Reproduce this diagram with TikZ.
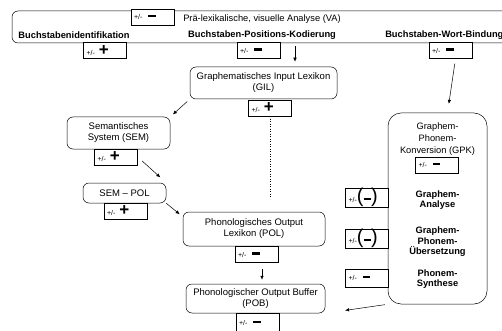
\documentclass[tikz,border=0pt]{standalone}
\usepackage{fontspec}
\setmainfont{Liberation Sans}
\usetikzlibrary{arrows.meta}

\newcommand{\pmlabel}{{\fontsize{7}{7}\selectfont +/-}}
\newcommand{\bigplus}{{\fontsize{17}{17}\selectfont\textbf{+}}}
\newcommand{\bigminus}{\rule[2.5pt]{7.5pt}{2.2pt}}
\newcommand{\parminus}{{\fontsize{20}{20}\selectfont(}\bigminus{\fontsize{20}{20}\selectfont)}}

\tikzset{
  stage/.style={draw, rounded corners=6pt, align=center, inner sep=0pt,
    font=\fontsize{9.5}{11}\selectfont},
  score/.style={draw, fill=white, text width=37pt, inner xsep=3pt, inner ysep=0pt,
    minimum height=16pt, align=left},
  route/.style={font=\fontsize{9.3}{10.5}\selectfont\bfseries, align=center, inner sep=0pt},
  every path/.style={line width=0.5pt},
  >={Latex[length=4pt,width=3.5pt]}
}

\begin{document}
\begin{tikzpicture}[x=1pt,y=-1pt]
      \useasboundingbox (0,0) rectangle (502,331);
      %Visual analysis
      \node[stage, minimum width=508pt, minimum height=32pt] (va) at (266,27) {};
      \node[score] (vascore) at (152.5,17) {\pmlabel\hspace{6pt}\bigminus};
      \node[anchor=west, inner sep=0pt, font=\fontsize{9.3}{11}\selectfont] (vatext) at (183,19) {Prä-lexikalische, visuelle Analyse (VA)};
      \node[route] (bi) at (74,35) {Buchstabenidentifikation};
      \node[route] (bpk) at (262,35) {Buchstaben-Positions-Kodierung};
      \node[route, anchor=west] (bwb) at (385,35) {Buchstaben-Wort-Bindung};
      \node[score] (biscore) at (105,50.5) {\pmlabel\hspace{4pt}\bigplus};
      \node[score] (bpkscore) at (258.5,50.5) {\pmlabel\hspace{6pt}\bigminus};
      \node[score] (bwbscore) at (450.5,50.5) {\pmlabel\hspace{6pt}\bigminus};
      \coordinate (bpkarrow) at (295,46);
      %Lexical route
      \node[stage, minimum width=147pt, minimum height=32pt] (gil) at (263.5,83) {Graphematisches Input Lexikon\\(GIL)};
      \node[score] (gilscore) at (270,108) {\pmlabel\hspace{4pt}\bigplus};
      \node[stage, minimum width=103pt, minimum height=32pt] (sem) at (118.5,133) {Semantisches\\System (SEM)};
      \node[score] (semscore) at (116,157) {\pmlabel\hspace{4pt}\bigplus};
      \node[stage, minimum width=83pt, minimum height=20pt] (sempol) at (124.5,193) {SEM -- POL};
      \node[score] (sempolscore) at (125.5,211) {\pmlabel\hspace{4pt}\bigplus};
      \node[stage, minimum width=142pt, minimum height=34pt] (pol) at (254,229) {Phonologisches Output\\Lexikon (POL)};
      \node[score] (polscore) at (256.5,254.5) {\pmlabel\hspace{6pt}\bigminus};
      \node[stage, minimum width=139pt, minimum height=29pt] (pob) at (255.5,298.5) {Phonologischer Output Buffer\\(POB)};
      \node[score, minimum height=20pt] (pobscore) at (257.5,323) {\pmlabel\hspace{6pt}\bigminus};
      %Sublexical route
      \node[stage, rounded corners=13pt, minimum width=99pt, minimum height=191pt] (gpk) at (437.5,208.5) {};
      \node[align=center, inner sep=0pt, font=\fontsize{9.3}{12}\selectfont] (gpktext) at (437.5,139) {Graphem-\\Phonem-\\Konversion (GPK)};
      \node[score] (gpkscore) at (437,165) {\pmlabel\hspace{6pt}\bigminus};
      \node[route] (ga) at (437.5,200) {Graphem-\\Analyse};
      \node[route] (gpu) at (437.5,242) {Graphem-\\Phonem-\\Übersetzung};
      \node[route] (ps) at (437.5,279) {Phonem-\\Synthese};
      \node[score, minimum height=17pt] (gascore) at (367,197.5) {\pmlabel\hspace{0pt}\parminus};
      \node[score, minimum height=17pt] (gpuscore) at (367,238.5) {\pmlabel\hspace{0pt}\parminus};
      \node[score, minimum height=18pt] (psscore) at (367,278) {\pmlabel\hspace{6pt}\bigminus};
      %Connections
      \draw[->, shorten >=5pt] (bpkarrow) -- (bpkarrow |- gil.north);
      \draw[->, shorten <=3.5pt, shorten >=3.5pt] (gil.south west) -- (sem.north east);
      \draw[->, shorten <=6pt, shorten >=8pt] (semscore.east) -- (sempol.north east);
      \draw[->, shorten >=4pt] (sempol.south east) -- ([yshift=-5pt]pol.north west);
      \draw[dotted] (gilscore.south) -- ([yshift=13pt]gilscore.south |- pol.north);
      \draw[->, shorten <=6pt, shorten >=4pt] ([xshift=5.5pt]polscore.south) -- ([xshift=5.5pt]polscore.south |- pob.north);
      \draw[->, shorten <=5pt, shorten >=9pt] ([xshift=5pt]bwbscore.south) -- ([xshift=10pt]gpk.north);
      \draw[->, shorten <=3pt, shorten >=20pt] (gpk.south west) -- (pob.south east);
\end{tikzpicture}
\end{document}
